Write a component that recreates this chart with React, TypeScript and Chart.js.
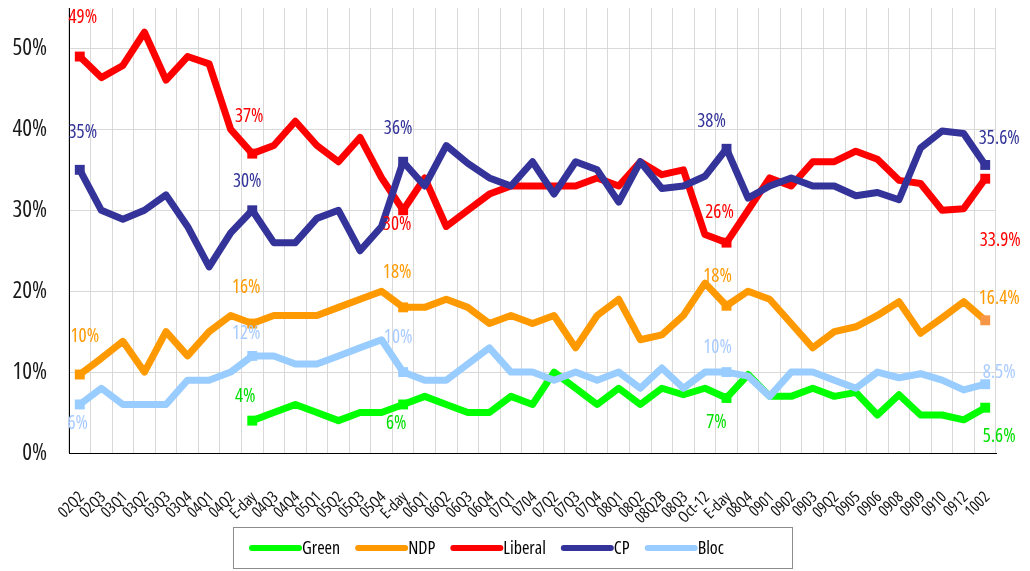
import React, { useEffect, useRef } from 'react';
import { Chart, registerables } from 'chart.js';

Chart.register(...registerables);

const FAMILY = "'Open Sans', 'DejaVu Sans Condensed', sans-serif";
const STRETCH = 'condensed';

const categories = [
  '02Q2', '02Q3', '03Q1', '03Q2', '03Q3', '03Q4', '04Q1', '04Q2', 'E-day', '04Q3',
  '04Q4', '05Q1', '05Q2', '05Q3', '05Q4', 'E-day', '06Q1', '06Q2', '06Q3', '06Q4',
  '07Q1', '0704', '07Q2', '07Q3', '07Q4', '08Q1', '08Q2', '08Q2B', '08Q3', 'Oct-12',
  'E-day', '08Q4', '0901', '0902', '0903', '09Q2', '0905', '0906', '0908', '0909',
  '0910', '0912', '1002',
];

const green: (number | null)[] = [
  null, null, null, null, null, null, null, null, 4, 5,
  6, 5, 4, 5, 5, 6, 7, 6, 5, 5,
  7, 6, 10, 8, 6, 8, 6, 8, 7.2, 8,
  6.8, 9.7, 7, 7, 8, 7, 7.5, 4.7, 7.2, 4.7,
  4.7, 4.1, 5.6,
];

const ndp = [
  9.7, 11.7, 13.8, 10, 15, 12, 15, 17, 16, 17,
  17, 17, 18, 19, 20, 18, 18, 19, 18, 16,
  17, 16, 17, 13, 17, 19, 14, 14.6, 17, 21,
  18.2, 20, 19, 16, 13, 15, 15.6, 17, 18.7, 14.8,
  16.7, 18.7, 16.4,
];

const liberal = [
  49, 46.4, 47.9, 52, 46.1, 49, 48.1, 40, 37, 38,
  41, 38, 36, 39, 34, 30, 34, 28, 30, 32,
  33, 33, 33, 33, 34, 33, 36, 34.4, 35, 27,
  26, 30, 34, 33, 36, 36, 37.3, 36.3, 33.7, 33.3,
  30, 30.2, 33.9,
];

const cp = [
  35, 30, 28.9, 30, 31.9, 28, 23, 27.2, 30, 26,
  26, 29, 30, 25, 28, 36, 33, 38, 35.8, 34,
  33, 36, 32, 36, 35, 31, 36, 32.7, 33, 34.2,
  37.6, 31.5, 33, 34, 33, 33, 31.8, 32.2, 31.3, 37.7,
  39.8, 39.5, 35.6,
];

const bloc = [
  6, 8, 6, 6, 6, 9, 9, 10, 12, 12,
  11, 11, 12, 13, 14, 10, 9, 9, 11, 13,
  10, 10, 9, 10, 9, 10, 8, 10.5, 8, 10,
  10, 9.5, 7, 10, 10, 9, 8, 10, 9.3, 9.8,
  9, 7.8, 8.5,
];

const seriesNames = ['Green', 'NDP', 'Liberal', 'CP', 'Bloc'];
const seriesData = [green, ndp, liberal, cp, bloc];
const lineColors = ['#00FF00', '#FF9900', '#FF0000', '#333399', '#99CCFF'];
const labelColors = ['#00E000', '#FF9900', '#FF0000', '#333399', '#A8CBFF'];
const drawOrder = [5, 4, 3, 2, 1];
const markedIndices = [0, 8, 15, 30, 42];

// label placement (offset from the point, in px)
const pointLabels = [
  { ds: 2, i: 0, dx: 3, dy: -39 },
  { ds: 2, i: 8, dx: -3, dy: -37 },
  { ds: 2, i: 15, dx: -6, dy: 14 },
  { ds: 2, i: 30, dx: -7, dy: -30 },
  { ds: 2, i: 42, dx: 15, dy: 62 },
  { ds: 3, i: 0, dx: 3, dy: -37 },
  { ds: 3, i: 8, dx: -5, dy: -29 },
  { ds: 3, i: 15, dx: -5, dy: -33 },
  { ds: 3, i: 30, dx: -15, dy: -27 },
  { ds: 3, i: 42, dx: 14, dy: -26 },
  { ds: 1, i: 0, dx: 5, dy: -38 },
  { ds: 1, i: 8, dx: -6, dy: -36 },
  { ds: 1, i: 15, dx: -6, dy: -35 },
  { ds: 1, i: 30, dx: -9, dy: -29 },
  { ds: 1, i: 42, dx: 14, dy: -22 },
  { ds: 4, i: 0, dx: -2, dy: 19 },
  { ds: 4, i: 8, dx: -6, dy: -22 },
  { ds: 4, i: 15, dx: -5, dy: -34 },
  { ds: 4, i: 30, dx: -9, dy: -24 },
  { ds: 4, i: 42, dx: 14, dy: -12 },
  { ds: 0, i: 8, dx: -7, dy: -24 },
  { ds: 0, i: 15, dx: -7, dy: 19 },
  { ds: 0, i: 30, dx: -10, dy: 25 },
  { ds: 0, i: 42, dx: 14, dy: 29 },
];

const labelPlugin = {
  id: 'pointLabels',
  afterDatasetsDraw(chart: any) {
    const ctx = chart.ctx;
    ctx.save();
    ctx.font = `${STRETCH} 19px ${FAMILY}`;
    ctx.textAlign = 'center';
    ctx.textBaseline = 'middle';
    for (const L of pointLabels) {
      const v = chart.data.datasets[L.ds].data[L.i];
      const pt = chart.getDatasetMeta(L.ds).data[L.i];
      if (v == null || !pt) continue;
      const text = (L.i === categories.length - 1 ? v.toFixed(1) : String(Math.round(v))) + '%';
      ctx.fillStyle = labelColors[L.ds];
      ctx.fillText(text, pt.x + L.dx, pt.y + L.dy);
    }
    ctx.restore();
  },
};

const legendPlugin = {
  id: 'boxLegend',
  afterDraw(chart: any) {
    const ctx = chart.ctx;
    ctx.save();
    ctx.strokeStyle = '#8c8c8c';
    ctx.lineWidth = 1;
    ctx.strokeRect(233.5, 527.5, 559, 41);
    ctx.font = `${STRETCH} 18px ${FAMILY}`;
    ctx.textBaseline = 'middle';
    ctx.textAlign = 'left';
    let x = 252;
    const y = 548;
    seriesNames.forEach((name, k) => {
      ctx.strokeStyle = lineColors[k];
      ctx.lineWidth = 6;
      ctx.lineCap = 'round';
      ctx.beginPath();
      ctx.moveTo(x, y);
      ctx.lineTo(x + 47, y);
      ctx.stroke();
      ctx.fillStyle = '#000';
      ctx.fillText(name, x + 50, y + 1);
      x += 50 + ctx.measureText(name).width + 18;
    });
    ctx.restore();
  },
};

export default function App() {
  const ref = useRef<HTMLCanvasElement | null>(null);

  useEffect(() => {
    if (!ref.current) return;
    const chart = new Chart(ref.current, {
      type: 'line',
      data: {
        labels: categories,
        datasets: seriesNames.map((name, k) => ({
          label: name,
          data: seriesData[k] as any,
          borderColor: lineColors[k],
          backgroundColor: lineColors[k],
          borderWidth: 7,
          borderJoinStyle: 'round' as const,
          tension: 0,
          fill: false,
          order: drawOrder[k],
          pointStyle: 'rect' as const,
          pointRadius: (c: any) => (markedIndices.includes(c.dataIndex) ? 7 : 0),
          pointBorderWidth: 0,
          pointBackgroundColor: (c: any) =>
            k === 1 && c.dataIndex === categories.length - 1 ? '#F79646' : lineColors[k],
        })),
      },
      options: {
        animation: false,
        responsive: true,
        maintainAspectRatio: false,
        layout: { padding: { top: 8, right: 34, bottom: 48, left: 0 } },
        plugins: {
          legend: { display: false },
          tooltip: { enabled: false },
        },
        scales: {
          x: {
            offset: true,
            grid: { offset: true, color: '#d9d9d9', drawTicks: false },
            border: { color: '#000', width: 1 },
            ticks: {
              autoSkip: false,
              maxRotation: 45,
              minRotation: 45,
              padding: 35,
              labelOffset: 2,
              color: '#111',
              font: { family: FAMILY, size: 16, weight: STRETCH as any },
            },
            afterFit: (s: any) => {
              s.height = 70;
              s.paddingLeft = 0;
              s.paddingRight = 0;
            },
          },
          y: {
            min: 0,
            max: 55,
            afterBuildTicks: (s: any) => {
              s.ticks = s.ticks.filter((t: any) => t.value % 10 === 0);
            },
            afterFit: (s: any) => {
              s.width = 69;
              s.paddingTop = 0;
              s.paddingBottom = 0;
            },
            grid: { color: '#d9d9d9', drawTicks: false },
            border: { color: '#000', width: 1 },
            ticks: {
              stepSize: 10,
              padding: 22,
              color: '#1a1a1a',
              font: { family: FAMILY, size: 23, weight: STRETCH as any },
              callback: (v: any) => v + '%',
            },
          },
        },
      },
      plugins: [labelPlugin, legendPlugin],
    });
    return () => chart.destroy();
  }, []);

  return (
    <div style={{ position: 'fixed', left: 0, top: 0, width: 1030, height: 571, background: '#fff' }}>
      <canvas ref={ref} />
    </div>
  );
}
